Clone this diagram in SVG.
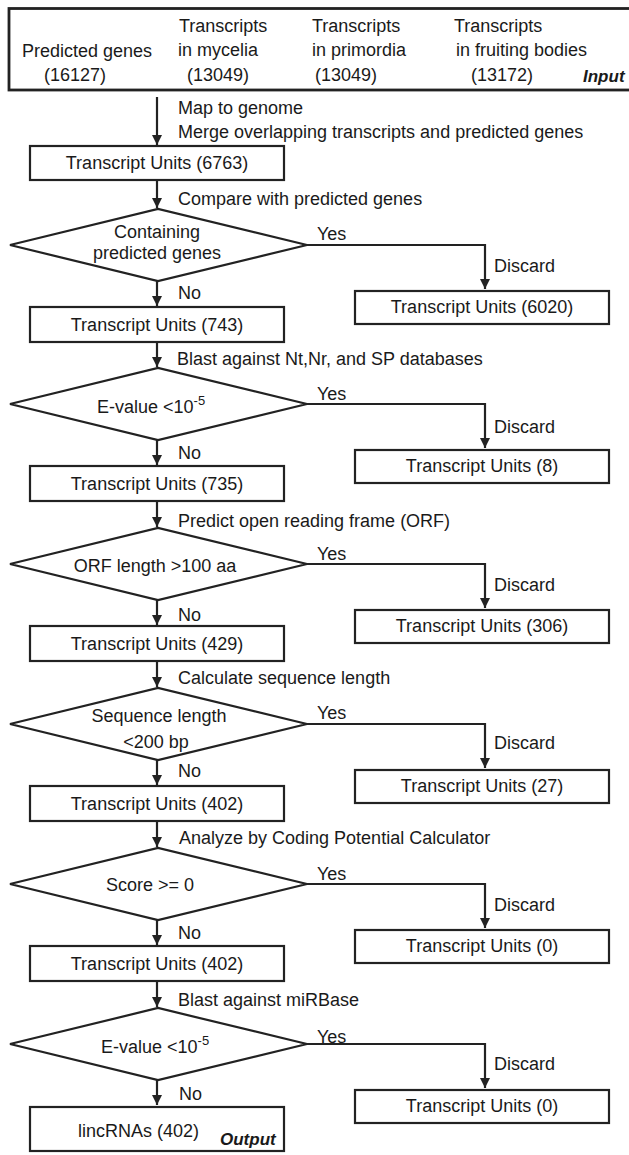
<svg xmlns="http://www.w3.org/2000/svg" width="629" height="1155" viewBox="0 0 629 1155">
<style>
text{font-family:"Liberation Sans",Arial,sans-serif;font-size:18px;fill:#1a1a1a}
.c{text-anchor:middle}
.bi{font-weight:bold;font-style:italic;font-size:17px}
.box{fill:#fff;stroke:#222;stroke-width:2.2}
.dia{fill:#fff;stroke:#222;stroke-width:2.2}
.ln{fill:none;stroke:#222;stroke-width:2.2}
</style>
<defs>
<marker id="ah" markerUnits="userSpaceOnUse" markerWidth="10" markerHeight="11" refX="10" refY="5" orient="auto" viewBox="0 0 10 10">
<path d="M0,0 L10,5 L0,10 Z" fill="#222"/>
</marker>
</defs>
<rect width="629" height="1155" fill="#fff"/>

<g id="input">
<rect x="9" y="8.5" width="640" height="81.5" fill="#fff" stroke="#222" stroke-width="2.8"/>
<text x="22" y="57">Predicted genes</text>
<text x="44" y="81">(16127)</text>
<text x="179" y="32">Transcripts</text>
<text x="178" y="56">in mycelia</text>
<text x="187" y="81">(13049)</text>
<text x="312" y="32">Transcripts</text>
<text x="312" y="56">in primordia</text>
<text x="315" y="81">(13049)</text>
<text x="454" y="32">Transcripts</text>
<text x="456" y="56">in fruiting bodies</text>
<text x="471" y="81">(13172)</text>
<text class="bi" x="583" y="82">Input</text>
</g>

<g id="tu6763"><rect class="box" x="30" y="146" width="254" height="34"/><text class="c" x="157" y="169">Transcript Units (6763)</text></g>

<g id="d1"><polygon class="dia" points="10,245 158,209 307,245 158,281"/><text class="c" x="157" y="238">Containing</text><text class="c" x="157" y="259">predicted genes</text></g>
<g id="tu6020"><rect class="box" x="355" y="291" width="254" height="33"/><text class="c" x="482" y="313">Transcript Units (6020)</text></g>
<g id="tu743"><rect class="box" x="30" y="307" width="254" height="35"/><text class="c" x="157" y="331">Transcript Units (743)</text></g>

<g id="d2"><polygon class="dia" points="10,404 158,368 307,404 158,440"/><text x="97" y="413">E-value &lt;10<tspan font-size="13" dy="-8">-5</tspan></text></g>
<g id="tu8"><rect class="box" x="355" y="450" width="254" height="33"/><text class="c" x="482" y="472">Transcript Units (8)</text></g>
<g id="tu735"><rect class="box" x="30" y="466" width="254" height="35"/><text class="c" x="157" y="490">Transcript Units (735)</text></g>

<g id="d3"><polygon class="dia" points="10,564 158,528 307,564 158,600"/><text class="c" x="155" y="572">ORF length &gt;100 aa</text></g>
<g id="tu306"><rect class="box" x="355" y="610" width="254" height="33"/><text class="c" x="482" y="632">Transcript Units (306)</text></g>
<g id="tu429"><rect class="box" x="30" y="626" width="254" height="35"/><text class="c" x="157" y="650">Transcript Units (429)</text></g>

<g id="d4"><polygon class="dia" points="10,724 158,688 307,724 158,760"/><text class="c" x="159" y="722">Sequence length</text><text class="c" x="156" y="748">&lt;200 bp</text></g>
<g id="tu27"><rect class="box" x="355" y="770" width="254" height="33"/><text class="c" x="482" y="792">Transcript Units (27)</text></g>
<g id="tu402a"><rect class="box" x="30" y="786" width="254" height="35"/><text class="c" x="157" y="810">Transcript Units (402)</text></g>

<g id="d5"><polygon class="dia" points="10,884 158,848 307,884 158,920"/><text class="c" x="150" y="891">Score &gt;= 0</text></g>
<g id="tu0a"><rect class="box" x="355" y="930" width="254" height="33"/><text class="c" x="482" y="952">Transcript Units (0)</text></g>
<g id="tu402b"><rect class="box" x="30" y="946" width="254" height="35"/><text class="c" x="157" y="970">Transcript Units (402)</text></g>

<g id="d6"><polygon class="dia" points="10,1044 158,1008 307,1044 158,1080"/><text x="101" y="1053">E-value &lt;10<tspan font-size="13" dy="-8">-5</tspan></text></g>
<g id="tu0b"><rect class="box" x="355" y="1090" width="254" height="33"/><text class="c" x="482" y="1112">Transcript Units (0)</text></g>
<g id="linc"><rect class="box" x="30" y="1107" width="254" height="44"/><text x="78" y="1137">lincRNAs (402)</text><text class="bi" x="220" y="1145">Output</text></g>

<g id="connectors">
<line class="ln" x1="157" y1="97" x2="157" y2="145" marker-end="url(#ah)"/>
<text x="178" y="114">Map to genome</text>
<text x="178" y="138">Merge overlapping transcripts and predicted genes</text>

<line class="ln" x1="157" y1="181" x2="157" y2="208" marker-end="url(#ah)"/>
<text x="178" y="205">Compare with predicted genes</text>
<polyline class="ln" points="307,245 485,245 485,289" marker-end="url(#ah)"/>
<text x="317" y="240">Yes</text><text x="494" y="272">Discard</text>
<line class="ln" x1="157" y1="281" x2="157" y2="306" marker-end="url(#ah)"/>
<text x="178" y="299">No</text>

<line class="ln" x1="157" y1="342" x2="157" y2="367" marker-end="url(#ah)"/>
<text x="177" y="365">Blast against Nt,Nr, and SP databases</text>
<polyline class="ln" points="307,404 485,404 485,448" marker-end="url(#ah)"/>
<text x="317" y="400">Yes</text><text x="494" y="433">Discard</text>
<line class="ln" x1="157" y1="440" x2="157" y2="465" marker-end="url(#ah)"/>
<text x="178" y="459">No</text>

<line class="ln" x1="157" y1="501" x2="157" y2="527" marker-end="url(#ah)"/>
<text x="178" y="527">Predict open reading frame (ORF)</text>
<polyline class="ln" points="307,564 485,564 485,608" marker-end="url(#ah)"/>
<text x="317" y="560">Yes</text><text x="494" y="591">Discard</text>
<line class="ln" x1="157" y1="600" x2="157" y2="625" marker-end="url(#ah)"/>
<text x="178" y="621">No</text>

<line class="ln" x1="157" y1="661" x2="157" y2="687" marker-end="url(#ah)"/>
<text x="178" y="684">Calculate sequence length</text>
<polyline class="ln" points="307,724 485,724 485,768" marker-end="url(#ah)"/>
<text x="317" y="719">Yes</text><text x="494" y="749">Discard</text>
<line class="ln" x1="157" y1="760" x2="157" y2="785" marker-end="url(#ah)"/>
<text x="178" y="777">No</text>

<line class="ln" x1="157" y1="821" x2="157" y2="847" marker-end="url(#ah)"/>
<text x="179" y="844">Analyze by Coding Potential Calculator</text>
<polyline class="ln" points="307,884 485,884 485,928" marker-end="url(#ah)"/>
<text x="317" y="880">Yes</text><text x="494" y="911">Discard</text>
<line class="ln" x1="157" y1="920" x2="157" y2="945" marker-end="url(#ah)"/>
<text x="178" y="939">No</text>

<line class="ln" x1="157" y1="981" x2="157" y2="1007" marker-end="url(#ah)"/>
<text x="178" y="1006">Blast against miRBase</text>
<polyline class="ln" points="307,1044 485,1044 485,1088" marker-end="url(#ah)"/>
<text x="317" y="1043">Yes</text><text x="494" y="1070">Discard</text>
<line class="ln" x1="157" y1="1080" x2="157" y2="1105" marker-end="url(#ah)"/>
<text x="179" y="1100">No</text>
</g>
</svg>
